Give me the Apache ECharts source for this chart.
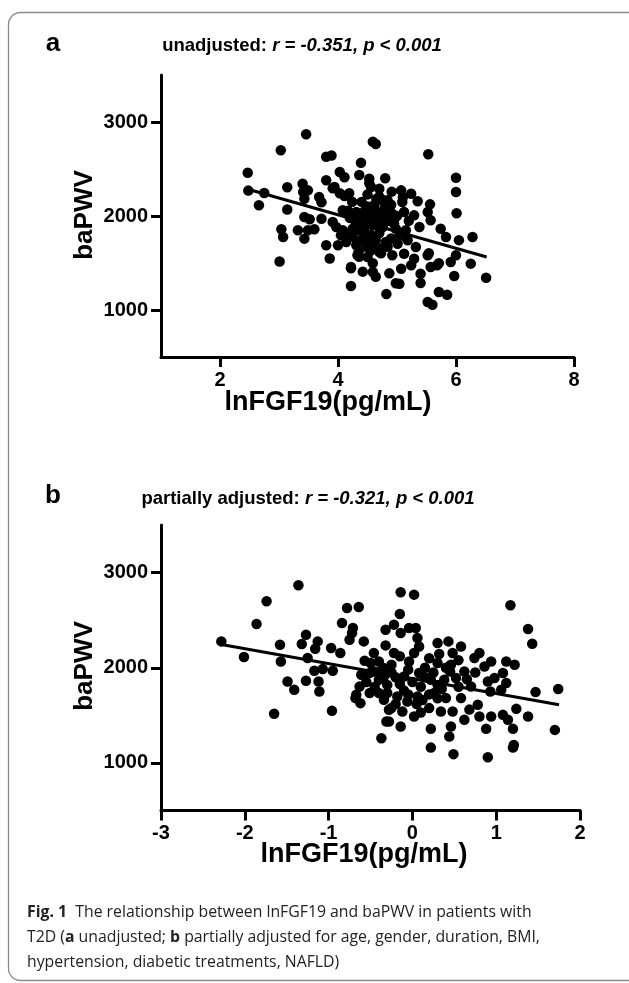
<!DOCTYPE html>
<html>
<head>
<meta charset="utf-8">
<script src="https://cdn.jsdelivr.net/npm/echarts@6/dist/echarts.min.js"></script>
<style>
html,body{margin:0;padding:0;background:#fff;}
#c{width:629px;height:983px;}
</style>
</head>
<body>
<div id="c"></div>
<script>
// ---- data ----
var pointsA = [
[3.46,2870],[3.03,2700],[2.47,2460],[2.48,2270],[2.75,2245],[2.66,2114],[3.14,2305],[3.14,2069],[3.40,2344],[3.41,2255],
[3.49,2273],[3.43,2184],[3.68,2202],[3.72,2146],[3.80,2630],[3.89,2643],[3.80,2380],[3.94,2309],[4.03,2468],[3.43,1989],
[3.52,1965],[3.72,1971],[3.91,1936],[3.97,1883],[3.04,1859],[3.07,1777],[3.32,1848],[3.49,1848],[3.60,1859],[3.43,1759],
[3.80,1688],[3.86,1548],[4.00,1688],[3.01,1516],[4.08,2061],[4.05,1795],[4.22,1255],[4.82,1170],[4.22,1444],[4.11,2412],
[4.39,2567],[4.36,2436],[4.59,2790],[4.64,2766],[4.80,2401],[4.91,2259],[3.91,2295],[4.03,2242],[4.11,2213],[4.17,2056],
[4.14,1816],[4.25,1780],[4.36,1567],[4.42,1408],[4.64,1354],[4.87,1390],[4.98,1284],[4.59,1497],[4.73,1603],[4.84,1673],
[4.48,1673],[4.48,1745],[5.53,2657],[4.53,2397],[6.00,2407],[6.00,2255],[6.01,2030],[4.19,2242],[4.56,2309],[4.70,2290],
[5.07,2273],[5.24,2237],[5.35,2156],[5.56,2124],[4.84,2167],[5.09,2149],[4.31,2043],[4.59,2078],[4.76,2043],[4.92,2024],
[5.12,2043],[5.29,2007],[5.52,2043],[5.57,1954],[5.74,1865],[5.83,1777],[6.05,1743],[6.28,1777],[4.08,1848],[4.25,1865],
[4.42,1830],[4.59,1901],[4.76,1883],[4.98,1865],[5.15,1848],[5.38,1883],[4.14,1723],[4.31,1688],[4.64,1742],[4.81,1723],
[5.01,1705],[5.18,1742],[5.32,1670],[4.33,1582],[4.50,1564],[4.70,1617],[4.92,1582],[5.12,1599],[5.29,1546],[5.52,1582],
[5.68,1476],[5.91,1511],[6.00,1582],[6.25,1493],[4.22,1457],[4.59,1404],[5.07,1439],[5.24,1476],[5.40,1386],[5.57,1457],
[5.97,1362],[5.40,1287],[5.04,1280],[5.71,1192],[5.85,1163],[5.52,1085],[5.60,1056],[6.51,1344],[4.24,2152],[4.31,1939],
[4.48,2046],[4.70,2205],[4.53,2348],[4.76,2170],[5.71,1497],[5.54,1603],
[4.35,2000],[4.45,1950],[4.55,2000],[4.65,2050],[4.50,2100],[4.40,2150],[4.60,1950],[4.70,1980],[4.80,2100],[4.45,1880],
[4.55,1800],[4.70,1820],[4.65,2180],[4.30,1930],[4.85,1950],[4.90,2120],[5.00,2000],[4.60,1700],[4.40,1750],[4.75,1660],
[4.55,1630],[4.20,1980],[5.05,1800],[4.90,1760],[5.20,1950],[5.10,2200],[4.50,2230],[4.35,1620],
[4.45,2050],[4.62,2120],[4.78,1990],[4.35,1850],[4.95,1920],[4.68,1900],[4.52,1720],[5.15,1780]
];
var pointsB = [
[-1.36,2866],[-1.74,2698],[-1.86,2460],[-2.28,2277],[-2.01,2113],[-1.58,2242],[-1.57,2066],[-1.27,2347],[-1.32,2249],[-1.13,2277],
[-1.16,2200],[-0.97,2207],[-0.86,2155],[-1.25,2102],[-1.17,1968],[-1.07,1986],[-0.95,1968],[-1.49,1856],[-1.41,1768],[-1.27,1863],
[-1.12,1856],[-1.11,1751],[-1.65,1516],[-0.96,1547],[-0.78,2628],[-0.64,2639],[-0.84,2471],[-0.71,2418],[-0.72,2365],[-0.75,2295],
[-0.58,2277],[-0.57,2074],[-0.32,2400],[-0.32,2235],[-0.46,2155],[-0.40,2066],[-0.61,1926],[-0.51,1944],[-0.40,1874],[-0.63,1803],
[-0.67,1716],[-0.68,1681],[-0.62,1628],[-0.51,1734],[-0.40,1734],[-0.34,1663],[-0.28,1558],[-0.31,1435],[-0.37,1260],
[-0.14,2793],[0.02,2768],[-0.15,2565],[1.17,2656],[1.38,2407],[1.43,2253],[-0.22,2453],[-0.14,2365],[-0.04,2418],[0.04,2418],
[0.06,2313],[0.08,2224],[0.02,2155],[-0.04,2066],[-0.22,2155],[-0.25,2032],[0.30,2260],[0.43,2277],[0.58,2224],[0.32,2144],
[0.48,2155],[0.80,2155],[0.94,2066],[0.74,2102],[1.12,2066],[1.22,2032],[0.30,2049],[0.46,2032],[0.62,1961],[0.86,2014],
[1.08,1944],[0.98,1892],[1.12,1839],[-0.34,1908],[-0.10,1908],[0.08,1944],[0.22,1874],[0.38,1874],[0.52,1892],[0.70,1803],
[0.90,1856],[0.93,1751],[1.06,1768],[1.47,1744],[1.74,1776],[-0.30,1734],[-0.18,1698],[-0.06,1645],[0.06,1698],[0.26,1734],
[0.40,1681],[0.58,1681],[0.78,1611],[-0.25,1576],[-0.12,1540],[0.02,1487],[0.20,1576],[0.34,1540],[0.48,1540],[0.62,1453],
[0.80,1487],[0.94,1487],[1.08,1505],[1.14,1453],[1.24,1568],[1.38,1487],[-0.28,1435],[-0.14,1382],[0.22,1358],[0.46,1382],
[0.88,1358],[1.20,1358],[1.70,1347],[0.44,1277],[0.22,1161],[0.49,1092],[0.90,1060],[1.21,1189],[1.20,1161],
[-0.45,1960],[-0.20,1900],[0.00,1850],[0.10,1800],[-0.10,1760],[0.15,2000],[0.25,1950],[-0.30,1820],[0.05,1620],[0.35,1780],
[-0.05,1980],[0.20,2100],[0.45,1960],[-0.15,2120],[0.30,1680],[0.10,1530],
[-0.55,1850],[-0.45,1800],[-0.35,2000],[-0.25,1950],[-0.15,1830],[0.15,1900],[0.30,1820],[0.40,2000],[0.55,1800],[0.65,1880],
[0.75,1950],[-0.05,1720],[0.12,1660],[-0.50,2050],[0.55,2080],[0.20,1720],[-0.20,1620],[0.68,1560]
];
var fitA = [[2.46,2287],[6.52,1564]];
var fitB = [[-2.28,2245],[1.75,1611]];
var yTicks = [1000, 2000, 3000];
var xTicksA = [2, 4, 6, 8];
var xTicksB = [-3, -2, -1, 0, 1, 2];

// ---- chart ----
var FONT = '"Liberation Sans", Arial, Helvetica, sans-serif';
var chart = echarts.init(document.getElementById('c'), null, {renderer: 'canvas'});

function plain(v) { return String(v); }

function xAxisCfg(grid, min, max, ticks) {
  return {
    type: 'value', gridIndex: grid, min: min, max: max,
    axisLine: {show: true, onZero: false, lineStyle: {color: '#000', width: 3}},
    axisTick: {show: true, length: 10, lineStyle: {color: '#000', width: 3}, customValues: ticks},
    axisLabel: {show: true, color: '#000', fontFamily: FONT, fontWeight: 'bold', fontSize: 20, margin: 13,
      customValues: ticks, formatter: plain},
    splitLine: {show: false}
  };
}
function yAxisCfg(grid) {
  return {
    type: 'value', gridIndex: grid, min: 500, max: 3500,
    axisLine: {show: true, onZero: false, lineStyle: {color: '#000', width: 3}},
    axisTick: {show: true, length: 10, lineStyle: {color: '#000', width: 3}, customValues: yTicks},
    axisLabel: {show: true, color: '#000', fontFamily: FONT, fontWeight: 'bold', fontSize: 20, margin: 13,
      customValues: yTicks, formatter: plain},
    splitLine: {show: false}
  };
}

function boldText(txt, x, y, size, rot) {
  var o = {type: 'text', silent: true, style: {text: txt, x: x, y: y, fill: '#000',
    font: 'bold ' + size + 'px ' + FONT, align: 'center', verticalAlign: 'middle'}};
  if (rot) { o.rotation = rot; o.x = x; o.y = y; o.style.x = 0; o.style.y = 0; }
  return o;
}
function titleText(plainTxt, ital, x, y) {
  return {type: 'text', silent: true, style: {
    text: '{n|' + plainTxt + '}{i|' + ital + '}', x: x, y: y, align: 'center', verticalAlign: 'middle',
    rich: {
      n: {font: 'bold 18.5px ' + FONT, fill: '#000'},
      i: {font: 'italic bold 18.5px ' + FONT, fill: '#000'}
    }}};
}

var CAP = '"Open Sans", "Noto Sans", sans-serif';
var option = {
  animation: false,
  backgroundColor: '#fff',
  grid: [
    {left: 161, right: 55, top: 75, bottom: 626},
    {left: 161, right: 49, top: 525, bottom: 172.5}
  ],
  xAxis: [xAxisCfg(0, 1, 8, xTicksA), xAxisCfg(1, -3, 2, xTicksB)],
  yAxis: [yAxisCfg(0), yAxisCfg(1)],
  series: [
    {type: 'scatter', xAxisIndex: 0, yAxisIndex: 0, data: pointsA, symbol: 'circle', symbolSize: 10.5,
     itemStyle: {color: '#000', opacity: 1}, z: 2},
    {type: 'line', xAxisIndex: 0, yAxisIndex: 0, data: fitA, symbol: 'none',
     lineStyle: {color: '#000', width: 3}, z: 3},
    {type: 'scatter', xAxisIndex: 1, yAxisIndex: 1, data: pointsB, symbol: 'circle', symbolSize: 10.5,
     itemStyle: {color: '#000', opacity: 1}, z: 2},
    {type: 'line', xAxisIndex: 1, yAxisIndex: 1, data: fitB, symbol: 'none',
     lineStyle: {color: '#000', width: 3}, z: 3}
  ],
  graphic: [
    {type: 'rect', silent: true, shape: {x: 8.5, y: 12.5, width: 700, height: 968, r: 12},
     style: {fill: 'none', stroke: '#8a8a8a', lineWidth: 1.3}},
    boldText('a', 53, 44, 26),
    boldText('b', 53, 496, 26),
    titleText('unadjusted: ', 'r = -0.351, p < 0.001', 302, 46),
    titleText('partially adjusted: ', 'r = -0.321, p < 0.001', 308, 499),
    boldText('baPWV', 85, 215, 26, Math.PI / 2),
    boldText('baPWV', 85, 666, 26, Math.PI / 2),
    boldText('lnFGF19(pg/mL)', 328, 403, 27),
    boldText('lnFGF19(pg/mL)', 364, 855, 27),
    {type: 'text', silent: true, style: {
      text: '{b|Fig. 1}  The relationship between lnFGF19 and baPWV in patients with\nT2D ({b|a} unadjusted; {b|b} partially adjusted for age, gender, duration, BMI,\nhypertension, diabetic treatments, NAFLD)',
      x: 27, y: 900, align: 'left', verticalAlign: 'top', font: '15.8px ' + CAP, fill: '#222', lineHeight: 25,
      rich: {b: {font: 'bold 15.8px ' + CAP, fill: '#222', lineHeight: 25}}
    }}
  ]
};
chart.setOption(option);
</script>
</body>
</html>
